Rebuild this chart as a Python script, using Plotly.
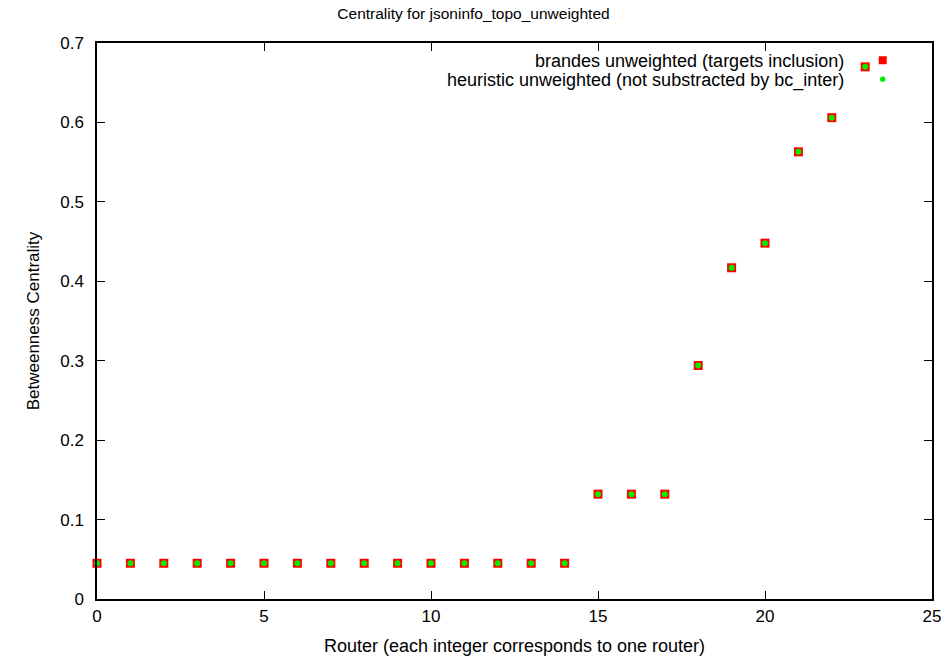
import plotly.graph_objects as go

routers = list(range(24))
brandes = [0.045]*15 + [0.132, 0.132, 0.132, 0.294, 0.417, 0.448, 0.563, 0.606, 0.670]
heuristic = [0.045]*15 + [0.132, 0.132, 0.132, 0.294, 0.417, 0.448, 0.563, 0.606, 0.670]
legend_labels = ["brandes unweighted (targets inclusion)",
                 "heuristic unweighted (not substracted by bc_inter)"]
x_ticks = [0, 5, 10, 15, 20, 25]
y_ticks = [0, 0.1, 0.2, 0.3, 0.4, 0.5, 0.6, 0.7]

FONT = "Liberation Sans, Arial, sans-serif"
fig = go.Figure()
fig.add_trace(go.Scatter(x=routers, y=brandes, mode="markers", name=legend_labels[0],
                         marker=dict(symbol="square", size=9, color="#ff0000", line=dict(width=0)),
                         showlegend=False))
fig.add_trace(go.Scatter(x=routers, y=heuristic, mode="markers", name=legend_labels[1],
                         marker=dict(symbol="circle", size=6, color="#00ee00", line=dict(width=0)),
                         showlegend=False))

# gnuplot-style key: text right-aligned, sample to the right
fig.add_annotation(xref="paper", yref="paper", x=0.897, y=0.9676, xanchor="right", yanchor="middle",
                   text=legend_labels[0], showarrow=False,
                   font=dict(size=18, color="black", family=FONT))
fig.add_annotation(xref="paper", yref="paper", x=0.897, y=0.9334, xanchor="right", yanchor="middle",
                   text=legend_labels[1], showarrow=False,
                   font=dict(size=18, color="black", family=FONT))
fig.add_shape(type="rect", xref="paper", yref="paper", xsizemode="pixel", ysizemode="pixel",
              xanchor=0.941, yanchor=0.969, x0=-4, x1=4, y0=-4, y1=4,
              fillcolor="#ff0000", line=dict(width=0))
fig.add_shape(type="circle", xref="paper", yref="paper", xsizemode="pixel", ysizemode="pixel",
              xanchor=0.941, yanchor=0.935, x0=-2.7, x1=2.7, y0=-2.7, y1=2.7,
              fillcolor="#00ee00", line=dict(width=0))

axis_common = dict(showgrid=False, zeroline=False, showline=True, linecolor="black", linewidth=1.5,
                   ticks="inside", ticklen=8, tickwidth=1, tickcolor="black", mirror="ticks",
                   tickfont=dict(size=17, color="black", family=FONT))
fig.update_xaxes(range=[0, 25], tickvals=x_ticks, ticklabelstandoff=1, **axis_common,
                 title=dict(text="Router (each integer corresponds to one router)",
                            font=dict(size=18, color="black", family=FONT), standoff=14))
fig.update_yaxes(range=[0, 0.7], tickvals=y_ticks, ticklabelstandoff=8, **axis_common,
                 title=dict(text="Betweenness Centrality",
                            font=dict(size=17, color="black", family=FONT), standoff=16))
fig.update_layout(
    width=947, height=660,
    margin=dict(l=97, r=15, t=43, b=61, autoexpand=False),
    paper_bgcolor="white", plot_bgcolor="white",
    title=dict(text="Centrality for jsoninfo_topo_unweighted", x=0.5, xanchor="center",
               y=0.98, yanchor="middle", font=dict(size=15.5, color="black", family=FONT)),
)
fig.update_traces(cliponaxis=False)
fig.write_html("out.html", config={"displayModeBar": False},
               post_script="document.body.style.margin='0';document.body.style.overflow='hidden';")
